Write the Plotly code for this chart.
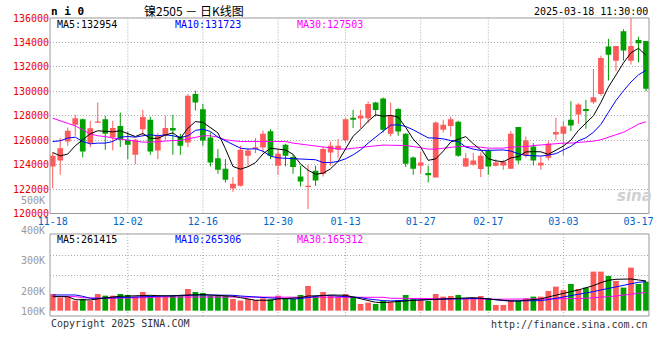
import plotly.graph_objects as go

# ---------------- data ----------------
dates = [
    "2024-11-18", "2024-11-19", "2024-11-20", "2024-11-21", "2024-11-22",
    "2024-11-25", "2024-11-26", "2024-11-27", "2024-11-28", "2024-11-29",
    "2024-12-02", "2024-12-03", "2024-12-04", "2024-12-05", "2024-12-06",
    "2024-12-09", "2024-12-10", "2024-12-11", "2024-12-12", "2024-12-13",
    "2024-12-16", "2024-12-17", "2024-12-18", "2024-12-19", "2024-12-20",
    "2024-12-23", "2024-12-24", "2024-12-25", "2024-12-26", "2024-12-27",
    "2024-12-30", "2024-12-31", "2025-01-02", "2025-01-03", "2025-01-06",
    "2025-01-07", "2025-01-08", "2025-01-09", "2025-01-10", "2025-01-13",
    "2025-01-14", "2025-01-15", "2025-01-16", "2025-01-17", "2025-01-20",
    "2025-01-21", "2025-01-22", "2025-01-23", "2025-01-24", "2025-01-27",
    "2025-02-05", "2025-02-06", "2025-02-07", "2025-02-10", "2025-02-11",
    "2025-02-12", "2025-02-13", "2025-02-14", "2025-02-17", "2025-02-18",
    "2025-02-19", "2025-02-20", "2025-02-21", "2025-02-24", "2025-02-25",
    "2025-02-26", "2025-02-27", "2025-02-28", "2025-03-03", "2025-03-04",
    "2025-03-05", "2025-03-06", "2025-03-07", "2025-03-10", "2025-03-11",
    "2025-03-12", "2025-03-13", "2025-03-14", "2025-03-17", "2025-03-18",
]

open_ = [123850, 124340, 125890, 127260, 127720, 125760, 127420, 127720, 126220, 127170,
         126030, 124800, 126900, 127670, 125160, 126360, 126990, 126300, 125810, 129790,
         128540, 126220, 124530, 123660, 122050, 122270, 124720, 125270, 125400, 126740,
         123910, 125620, 124620, 123030, 122160, 123500, 123250, 124990, 125210, 126000,
         127830, 127770, 127800, 129080, 129410, 126520, 128560, 126520, 124580, 123910,
         123310, 122950, 126850, 127170, 127500, 123850, 123990, 123640, 125160, 123910,
         123930, 123660, 127070, 124750, 125480, 123930, 124560, 126460, 126520, 127670,
         128100, 128560, 129110, 129790, 133660, 132510, 134920, 132510, 134200, 134120]

high = [124990, 126170, 127040, 128070, 127770, 127580, 129080, 127990, 127580, 128260,
        126710, 126110, 128480, 127930, 126580, 127990, 128070, 126520, 129770, 130040,
        128970, 126630, 125270, 124450, 122980, 125540, 125350, 126170, 126790, 126900,
        125270, 125700, 124800, 123910, 123990, 123910, 125430, 125890, 126090, 127830,
        128480, 128480, 129160, 129140, 129490, 129080, 128620, 126580, 124670, 125070,
        123910, 127530, 127670, 127930, 127580, 124940, 124940, 124990, 125270, 124450,
        124400, 126740, 127070, 126300, 125760, 124670, 125920, 127830, 127560, 129190,
        129030, 129300, 131830, 132920, 134290, 133710, 135080, 136000, 134470, 134120]

low = [122080, 123170, 125540, 126360, 124590, 125430, 127400, 125210, 125160, 125430,
       124450, 124040, 126360, 124800, 124450, 126030, 124800, 124800, 125430, 128430,
       125540, 123850, 123250, 122540, 121780, 122210, 123910, 124940, 124990, 124450,
       123170, 123850, 123250, 122210, 120370, 122270, 123030, 123910, 124530, 125760,
       126990, 126990, 127400, 127930, 126630, 126300, 126360, 123800, 123170, 123250,
       122540, 122950, 126630, 126300, 124640, 123800, 123910, 122980, 123170, 123850,
       123580, 123660, 124070, 124560, 123930, 123580, 124340, 126030, 124750, 126740,
       127340, 126930, 128970, 129650, 130880, 131650, 132510, 132190, 132380, 130010]

close = [124720, 125350, 126770, 127800, 125080, 126980, 127530, 126520, 126990, 126030,
         125620, 126030, 127890, 125070, 126360, 126990, 126790, 125540, 129630, 129080,
         125970, 124170, 123580, 122760, 122430, 125210, 125160, 125430, 126520, 124720,
         124890, 124720, 123800, 122620, 122270, 122700, 125270, 125540, 125540, 127720,
         127670, 127990, 128970, 128480, 126850, 128070, 126710, 124070, 123660, 124170,
         123140, 127440, 127260, 127720, 124720, 124530, 124340, 124720, 123850, 124170,
         124210, 126520, 124340, 125970, 124340, 124150, 125700, 126660, 127120, 127200,
         128920, 128380, 129520, 132730, 133000, 133710, 133330, 133710, 133930, 130200]

ma5 = [124990, 124720, 124860, 125540, 126030, 126520, 126770, 126710, 126680, 126770,
       126520, 126300, 126550, 126150, 126150, 126420, 126600, 126160, 126980, 127520,
       127460, 127050, 126600, 125300, 123850, 123630, 123830, 124160, 124880, 125340,
       125300, 125200, 124850, 124050, 123550, 123220, 123290, 123660, 124260, 125350,
       126320, 126900, 127550, 128080, 127960, 128030, 127900, 127050, 126090, 125440,
       124350, 124470, 125100, 125850, 126040, 126290, 125710, 125210, 124480, 124310,
       124230, 124550, 124660, 125040, 125060, 125050, 124840, 125160, 125520, 126000,
       126800, 127400, 128000, 129100, 130350, 131330, 132330, 133150, 133520, 132954]

ma10 = [125890, 125950, 126170, 126250, 125890, 125700, 125760, 125760, 125890, 126250,
        126300, 126250, 126360, 126440, 126360, 126440, 126360, 126220, 126360, 126800,
        126900, 126710, 126250, 125950, 125650, 125350, 125270, 125300, 125100, 124700,
        124550, 124530, 124450, 124450, 124450, 124400, 124170, 124170, 124260, 124480,
        124800, 125210, 125760, 126250, 126790, 127230, 127260, 127120, 126850, 126520,
        126190, 126170, 126110, 125970, 125890, 125450, 125270, 125160, 125160, 125160,
        125200, 125110, 124890, 124750, 124750, 124700, 124780, 124900, 125200, 125500,
        125950, 126200, 126650, 127300, 128280, 129250, 130040, 130760, 131350, 131723]

ma30 = [127800, 127610, 127400, 127170, 126850, 126520, 126360, 126300, 126170, 126090,
        125970, 125890, 125840, 125840, 125890, 125970, 125970, 125970, 126090, 126250,
        126360, 126360, 126250, 126030, 125950, 125890, 125890, 125890, 125950, 125950,
        125950, 125890, 125760, 125680, 125620, 125540, 125430, 125350, 125290, 125270,
        125350, 125400, 125480, 125540, 125600, 125600, 125600, 125560, 125480, 125350,
        125270, 125270, 125350, 125430, 125480, 125480, 125480, 125430, 125350, 125350,
        125350, 125430, 125430, 125480, 125560, 125620, 125620, 125700, 125760, 125760,
        125810, 125870, 125920, 126040, 126240, 126430, 126650, 126970, 127320, 127503]

# volume, thousands
volume = [190.2, 178.1, 181.4, 168.3, 173.8, 168.3, 190.2, 184.7, 184.7, 190.2,
          186.9, 181.4, 196.8, 184.7, 181.4, 181.4, 186.9, 186.9, 206.7, 196.8,
          193.5, 184.7, 184.7, 183.6, 173.8, 168.3, 173.8, 170.5, 176.0, 172.7,
          184.7, 173.8, 173.8, 186.9, 216.6, 181.4, 196.8, 183.6, 181.4, 190.2,
          181.4, 157.3, 161.7, 157.3, 167.2, 162.8, 170.5, 186.9, 176.0, 170.5,
          167.2, 190.2, 181.4, 183.6, 186.9, 173.8, 173.8, 183.6, 176.0, 154.0,
          154.0, 167.2, 167.2, 176.0, 181.4, 181.4, 200.1, 214.4, 203.4, 223.2,
          206.7, 211.1, 263.8, 263.8, 249.5, 233.1, 211.1, 277.0, 223.2, 230.9]

vma5 = [181.4, 181.4, 181.4, 171.6, 170.5, 170.5, 173.8, 178.1, 180.3, 182.5,
        183.6, 183.6, 185.8, 185.8, 184.7, 183.6, 183.6, 185.8, 186.9, 188.0,
        188.0, 186.9, 185.8, 185.8, 182.5, 178.1, 172.7, 169.4, 169.4, 169.4,
        173.8, 176.0, 176.0, 178.1, 183.6, 183.6, 184.7, 186.9, 186.9, 185.8,
        180.3, 173.8, 167.2, 162.8, 161.7, 162.8, 165.0, 167.2, 169.4, 170.5,
        171.6, 173.8, 176.0, 177.0, 178.1, 178.1, 178.1, 176.0, 173.8, 169.4,
        167.2, 167.2, 167.2, 169.4, 170.5, 173.8, 180.3, 186.9, 193.5, 197.9,
        203.4, 210.0, 217.7, 227.5, 235.3, 238.5, 239.6, 239.6, 236.3, 233.1]

vma10 = [186.9, 186.9, 186.9, 186.9, 182.5, 176.0, 176.0, 176.0, 176.0, 178.1,
         179.2, 180.3, 181.4, 182.5, 183.6, 183.6, 183.6, 184.7, 185.8, 186.9,
         186.9, 186.9, 186.9, 186.9, 185.8, 183.6, 181.4, 179.2, 178.1, 177.0,
         176.0, 173.8, 173.8, 174.9, 178.1, 182.5, 185.8, 184.7, 183.6, 182.5,
         180.3, 178.1, 173.8, 170.5, 168.3, 167.2, 168.3, 169.4, 170.5, 170.5,
         170.5, 171.6, 172.7, 173.8, 173.8, 174.9, 176.0, 176.0, 173.8, 170.5,
         168.3, 167.2, 167.2, 167.2, 167.2, 168.3, 171.6, 176.0, 180.3, 184.7,
         186.9, 192.4, 197.9, 203.4, 208.9, 214.4, 219.9, 225.4, 228.7, 230.9]

vma30 = [181.4, 181.4, 181.4, 181.4, 178.1, 176.0, 176.0, 176.0, 176.0, 178.1,
         178.1, 178.1, 178.1, 178.1, 180.3, 180.3, 180.3, 180.3, 180.3, 180.3,
         180.3, 181.4, 181.4, 181.4, 181.4, 181.4, 181.4, 179.2, 179.2, 179.2,
         179.2, 179.2, 179.2, 179.2, 180.3, 180.3, 180.3, 180.3, 180.3, 179.2,
         179.2, 179.2, 179.2, 179.2, 179.2, 176.0, 176.0, 176.0, 176.0, 176.0,
         173.8, 173.8, 173.8, 173.8, 173.8, 173.8, 173.8, 173.8, 172.7, 172.7,
         172.7, 172.7, 172.7, 172.7, 172.7, 172.7, 172.7, 172.7, 172.7, 173.8,
         174.9, 176.0, 177.0, 179.2, 181.4, 183.6, 185.8, 189.1, 192.4, 195.7]

label_dates = ["11-18", "12-02", "12-16", "12-30", "01-13", "01-27", "02-17", "03-03", "03-17"]
grid_dates = ["12-02", "12-16", "12-30", "01-13", "01-27", "02-17", "03-03"]
price_ticks = [120000, 122000, 124000, 126000, 128000, 130000, 132000, 134000, 136000]
vol_labels = ["400K", "300K", "200K", "100K"]

title_text = "镍2505 － 日K线图"
symbol_text = "n i 0"
time_text = "2025-03-18 11:30:00"
price_ma_text = ["MA5:132954", "MA10:131723", "MA30:127503"]
vol_ma_text = ["MA5:261415", "MA10:265306", "MA30:165312"]

# ---------------- styling / layout helpers ----------------
W, H = 660, 360
L, R, T, B = 50, 649, 18, 316
PRICE_BOTTOM = 213.5
VOL_TOP = 234
VOL_FLOOR = 135.1          # volume value at the bars' baseline
VOL_RANGE = [117.6, 387.8]

RED = "#FF5A5A"
GREEN = "#00A000"
MONO = "DejaVu Sans Mono"


def px(x):
    return (x - L) / (R - L)


def py(y):
    return (B - y) / (B - T)


n = len(dates)
xs = list(range(n))
short = [d[5:] for d in dates]
up = [c >= o for o, c in zip(open_, close)]
colors = [RED if u else GREEN for u in up]

fig = go.Figure()

# wicks
for flag, col in ((True, RED), (False, GREEN)):
    wx, wy = [], []
    for i in xs:
        if up[i] == flag:
            wx += [i, i, None]
            wy += [low[i], high[i], None]
    fig.add_trace(go.Scatter(x=wx, y=wy, mode="lines", line=dict(color=col, width=1),
                             hoverinfo="skip", showlegend=False, xaxis="x", yaxis="y"))

# bodies
body_base = [min(o, c) for o, c in zip(open_, close)]
body_h = [max(abs(c - o), 70) for o, c in zip(open_, close)]
fig.add_trace(go.Bar(x=xs, y=body_h, base=body_base, width=0.76,
                     marker=dict(color=colors, line=dict(width=0)),
                     showlegend=False, xaxis="x", yaxis="y"))

# price MAs
for ser, col in ((ma30, "#FF00FF"), (ma10, "#0000FF"), (ma5, "#000000")):
    fig.add_trace(go.Scatter(x=xs, y=ser, mode="lines", line=dict(color=col, width=1),
                             showlegend=False, xaxis="x", yaxis="y"))

# volume bars
fig.add_trace(go.Bar(x=xs, y=[v - VOL_FLOOR for v in volume], base=VOL_FLOOR, width=0.76,
                     marker=dict(color=colors, line=dict(width=0)),
                     showlegend=False, xaxis="x2", yaxis="y2"))
for ser, col in ((vma30, "#FF00FF"), (vma10, "#0000FF"), (vma5, "#000000")):
    fig.add_trace(go.Scatter(x=xs, y=ser, mode="lines", line=dict(color=col, width=1),
                             showlegend=False, xaxis="x2", yaxis="y2"))

xr = [-0.36, 79.4]
tickvals = [short.index(d) for d in label_dates]

fig.update_layout(
    width=W, height=H,
    margin=dict(l=L, r=W - R, t=T, b=H - B, autoexpand=False),
    paper_bgcolor="white", plot_bgcolor="white",
    barmode="overlay",
    showlegend=False,
    hovermode=False,
    xaxis=dict(domain=[0, 1], range=xr, anchor="y", tickvals=tickvals, ticktext=label_dates,
               tickfont=dict(family=MONO, size=10, color="#0066CC"), showgrid=False,
               zeroline=False, showline=False, ticks="", automargin=False),
    xaxis2=dict(domain=[0, 1], range=xr, anchor="y2", matches="x", showticklabels=False,
                showgrid=False, zeroline=False, showline=False, ticks="", automargin=False),
    yaxis=dict(domain=[py(PRICE_BOTTOM), 1], range=[price_ticks[0], price_ticks[-1]],
               tickvals=price_ticks, ticktext=[str(t) for t in price_ticks],
               tickfont=dict(family=MONO, size=10, color="#EE0000"),
               showgrid=True, gridcolor="#AAAAAA", griddash="1px,2px", gridwidth=1,
               zeroline=False, showline=False, ticks="", automargin=False),
    yaxis2=dict(domain=[0, py(VOL_TOP)], range=VOL_RANGE, tickvals=[250.4, 318.6],
                ticktext=["", ""], showgrid=True, gridcolor="#AAAAAA", griddash="1px,2px",
                zeroline=False, showline=False, ticks="", automargin=False),
)

shapes = []
# vertical date gridlines
for d in grid_dates:
    gi = short.index(d)
    for y0, y1 in ((py(PRICE_BOTTOM), 1), (0, py(VOL_TOP))):
        shapes.append(dict(type="line", xref="x", yref="paper", x0=gi, x1=gi, y0=y0, y1=y1,
                           line=dict(color="#AAAAAA", width=1, dash="1px,2px"), layer="below"))
# panel frames
for y0, y1 in ((py(PRICE_BOTTOM), 1), (0, py(VOL_TOP))):
    shapes.append(dict(type="rect", xref="paper", yref="paper", x0=0, x1=1, y0=y0, y1=y1,
                       line=dict(color="#999999", width=1), layer="above"))
fig.update_layout(shapes=shapes)

ann = []


def text(t, x, y, xa="left", size=10, color="#000000", family=MONO, bold=False):
    if bold:
        t = "<b>" + t + "</b>"
    ann.append(dict(text=t, x=px(x), y=py(y), xref="paper", yref="paper", xanchor=xa,
                    yanchor="middle", showarrow=False,
                    font=dict(family=family, size=size, color=color)))


text(symbol_text, 49, 11, size=11, bold=True)
text(title_text, 194, 10.5, xa="center", size=12, family="Noto Sans CJK SC")
text(time_text, 650, 11, xa="right", size=10)
for t, x, c in zip(price_ma_text, (55, 173, 295), ("#000000", "#0000FF", "#FF00FF")):
    text(t, x, 24.5, color=c)
for t, x, c in zip(vol_ma_text, (55, 173, 295), ("#000000", "#0000FF", "#FF00FF")):
    text(t, x, 239, color=c)
text("500K", 47, 200, xa="right", color="#999999")
for t, y in zip(vol_labels, (230.3, 260.7, 291, 311)):
    text(t, 47, y, xa="right", color="#999999")
text("Copyright 2025 SINA.COM", 49, 323, color="#333333")
text("http://finance.sina.com.cn", 650, 324, xa="right", color="#333333")
ann.append(dict(text="<i><b>sina</b></i>", x=px(634), y=py(196), xref="paper", yref="paper",
                xanchor="center", yanchor="middle", showarrow=False,
                font=dict(family="DejaVu Sans", size=15, color="#D0D0D0")))
fig.update_layout(annotations=ann)

fig.write_html("out.html", config={"displayModeBar": False, "staticPlot": True},
               post_script="document.body.style.margin='0';document.body.style.padding='0';")
